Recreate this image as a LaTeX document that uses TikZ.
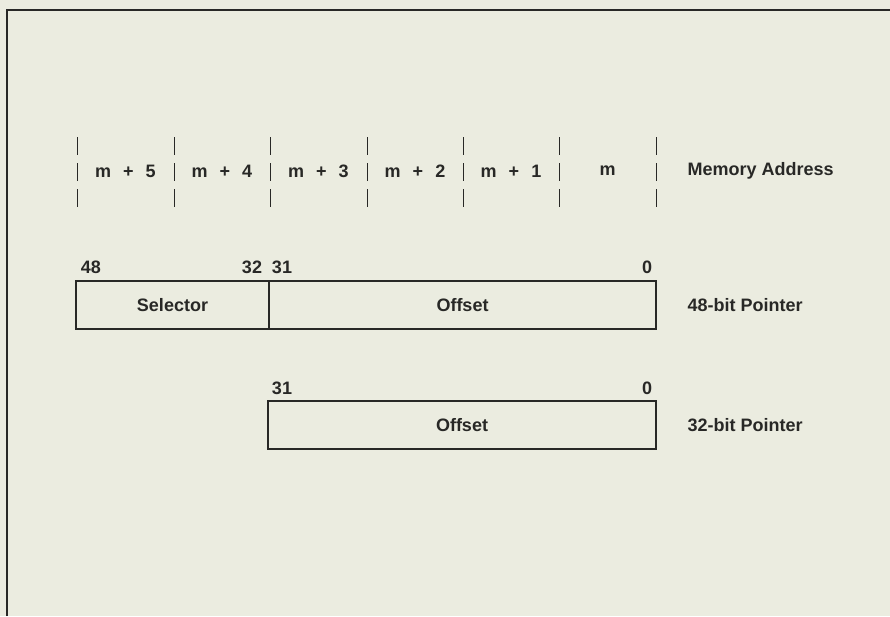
\documentclass[tikz,border=0pt]{standalone}
\usepackage{fontspec}
\setmainfont{Liberation Sans}
\definecolor{paper}{RGB}{235,236,224}
\definecolor{ink}{RGB}{40,40,38}
\newcommand{\gp}{\hskip 12pt\relax}
\begin{document}
\begin{tikzpicture}[x=1pt,y=-1pt,
  every node/.style={font=\fontsize{18}{20}\selectfont\bfseries, text=ink},
  field/.style={draw=ink, line width=1.8pt, minimum height=48pt, inner sep=0pt},
  lbl/.style={anchor=west},
  tick/.style={draw=ink, line width=0.9pt, dash pattern=on 18pt off 8pt},
  cell/.style={inner sep=0pt}]
\fill[paper] (0,0) rectangle (890,616);
\useasboundingbox (0,0) rectangle (890,616);
\draw[ink, line width=2.2pt] (7,616) -- (7,10) -- (890,10);

% memory address row
\foreach \i/\x in {0/77,1/174,2/270,3/367,4/463,5/559,6/656}{
  \coordinate (t\i a) at (\x,137);
  \coordinate (t\i b) at (\x,208);
  \draw[tick] (t\i a) -- (t\i b);
}
\node[cell] (c5) at (125.5,171) {m\gp+\gp5};
\node[cell] (c4) at (222,171) {m\gp+\gp4};
\node[cell] (c3) at (318.5,171) {m\gp+\gp3};
\node[cell] (c2) at (415,171) {m\gp+\gp2};
\node[cell] (c1) at (511,171) {m\gp+\gp1};
\node[cell] (c0) at (607.5,171) {m};
\node[lbl] (ma) at (684,171) {Memory Address};

% 48-bit pointer
\node[field, minimum width=193pt] (sel) at (172.5,305) {Selector};
\node[field, minimum width=387pt] (off48) at (462.5,305) {Offset};
\node (b48) at (91,267) {48};
\node (b32) at (252,267) {32};
\node (b31a) at (282,267) {31};
\node (b0a) at (647,267) {0};
\node[lbl] (p48) at (684,305) {48-bit Pointer};

% 32-bit pointer
\node[field, minimum width=388pt] (off32) at (462,425) {Offset};
\node (b31b) at (282,388) {31};
\node (b0b) at (647,388) {0};
\node[lbl] (p32) at (684,425) {32-bit Pointer};
\end{tikzpicture}
\end{document}
